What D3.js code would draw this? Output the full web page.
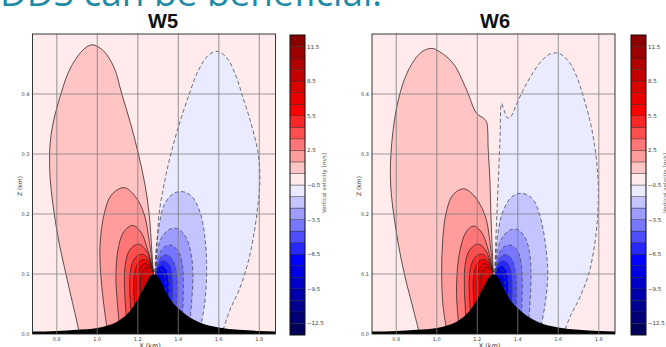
<!DOCTYPE html>
<html>
<head>
<meta charset="utf-8">
<script src="https://cdn.jsdelivr.net/npm/d3@7"></script>
<style>
body{margin:0;background:#fff;overflow:hidden}
svg{display:block}
</style>
</head>
<body>
<svg width="666" height="347"></svg>
<script>
// tick labels
const xTicks = [0.8, 1.0, 1.2, 1.4, 1.6, 1.8]
const zTicks = [0.0, 0.1, 0.2, 0.3, 0.4]
const cbTicks = [11.5, 8.5, 5.5, 2.5, -0.5, -3.5, -6.5, -9.5, -12.5]
const levels = [-13.5,-12.5,-11.5,-10.5,-9.5,-8.5,-7.5,-6.5,-5.5,-4.5,-3.5,-2.5,-1.5,-0.5,
    0.5,1.5,2.5,3.5,4.5,5.5,6.5,7.5,8.5,9.5,10.5,11.5,12.5]

// terrain (km)
const hillX = [0.68,0.8,0.9,1.0,1.05,1.1,1.15,1.2,1.23,1.25,1.265,1.28,1.295,1.31,1.33,1.36,1.40,1.45,1.5,1.55,1.6,1.7,1.8,1.88]
const hillZ = [0.004,0.005,0.007,0.01,0.014,0.021,0.034,0.058,0.077,0.09,0.097,0.1,0.097,0.09,0.076,0.058,0.043,0.029,0.02,0.014,0.011,0.007,0.005,0.004]

// W5 contours, [x km, z km]
const w5Up = [
  {level:0.5, pts:[[0.912,0.0],[0.894,0.028],[0.845,0.10],[0.803,0.167],[0.766,0.267],[0.772,0.333],[0.82,0.40],[0.87,0.445],[0.935,0.475],[0.976,0.482],[1.03,0.472],[1.083,0.444],[1.121,0.40],[1.165,0.35],[1.203,0.30],[1.235,0.25],[1.256,0.20],[1.269,0.14],[1.276,0.103]]},
  {level:1.5, pts:[[1.05,0.004],[1.03,0.055],[1.017,0.10],[1.014,0.15],[1.034,0.20],[1.07,0.232],[1.133,0.244],[1.19,0.228],[1.231,0.20],[1.256,0.156],[1.276,0.103]]},
  {level:2.5, pts:[[1.11,0.01],[1.095,0.07],[1.092,0.10],[1.102,0.14],[1.13,0.17],[1.174,0.181],[1.215,0.17],[1.245,0.145],[1.265,0.12],[1.276,0.103]]},
  {level:3.5, pts:[[1.145,0.02],[1.134,0.08],[1.138,0.115],[1.16,0.14],[1.203,0.15],[1.24,0.14],[1.262,0.122],[1.276,0.103]]},
  {level:4.5, pts:[[1.168,0.03],[1.16,0.085],[1.17,0.115],[1.195,0.13],[1.223,0.133],[1.25,0.127],[1.268,0.115],[1.277,0.103]]},
  {level:5.5, pts:[[1.185,0.04],[1.18,0.09],[1.193,0.113],[1.215,0.123],[1.24,0.124],[1.262,0.116],[1.277,0.103]]},
  {level:6.5, pts:[[1.2,0.05],[1.198,0.092],[1.21,0.109],[1.232,0.117],[1.255,0.115],[1.27,0.109],[1.278,0.102]]},
  {level:7.5, pts:[[1.215,0.06],[1.214,0.094],[1.226,0.106],[1.245,0.111],[1.263,0.11],[1.278,0.102]]}
]
const w5Down = [
  {level:-0.5, pts:[[1.285,0.103],[1.295,0.15],[1.305,0.20],[1.33,0.25],[1.363,0.30],[1.405,0.35],[1.454,0.40],[1.5,0.44],[1.55,0.465],[1.594,0.471],[1.64,0.46],[1.685,0.43],[1.714,0.40],[1.76,0.35],[1.795,0.30],[1.803,0.26],[1.795,0.22],[1.775,0.17],[1.745,0.12],[1.70,0.073],[1.655,0.04],[1.615,0.0]]},
  {level:-1.5, pts:[[1.285,0.103],[1.29,0.14],[1.305,0.18],[1.33,0.215],[1.375,0.234],[1.425,0.237],[1.47,0.228],[1.51,0.2],[1.535,0.15],[1.54,0.10],[1.53,0.05],[1.505,0.004]]},
  {level:-2.5, pts:[[1.285,0.103],[1.295,0.135],[1.32,0.162],[1.36,0.175],[1.40,0.175],[1.44,0.16],[1.465,0.13],[1.472,0.095],[1.465,0.05],[1.455,0.012]]},
  {level:-3.5, pts:[[1.286,0.103],[1.3,0.128],[1.33,0.145],[1.365,0.148],[1.40,0.138],[1.42,0.115],[1.425,0.085],[1.42,0.02]]},
  {level:-4.5, pts:[[1.286,0.103],[1.3,0.12],[1.32,0.13],[1.345,0.132],[1.37,0.125],[1.39,0.105],[1.395,0.075],[1.39,0.03]]},
  {level:-5.5, pts:[[1.286,0.103],[1.3,0.115],[1.32,0.122],[1.345,0.12],[1.365,0.108],[1.372,0.085],[1.37,0.04]]},
  {level:-6.5, pts:[[1.287,0.102],[1.302,0.111],[1.32,0.114],[1.34,0.108],[1.352,0.09],[1.352,0.05]]},
  {level:-7.5, pts:[[1.288,0.101],[1.303,0.107],[1.318,0.107],[1.332,0.097],[1.337,0.08],[1.337,0.06]]}
]

// W6 contours
const w6Up = [
  {level:0.5, pts:[[0.915,0.0],[0.885,0.04],[0.84,0.10],[0.80,0.17],[0.772,0.25],[0.778,0.32],[0.81,0.39],[0.86,0.44],[0.925,0.47],[0.976,0.476],[1.016,0.47],[1.081,0.451],[1.147,0.407],[1.196,0.368],[1.229,0.36],[1.245,0.354],[1.254,0.307],[1.262,0.257],[1.268,0.19],[1.274,0.14],[1.279,0.103]]},
  {level:1.5, pts:[[1.05,0.004],[1.03,0.05],[1.024,0.10],[1.028,0.15],[1.045,0.20],[1.08,0.232],[1.133,0.242],[1.18,0.232],[1.215,0.215],[1.245,0.19],[1.265,0.145],[1.278,0.103]]},
  {level:2.5, pts:[[1.11,0.01],[1.098,0.06],[1.1,0.10],[1.115,0.14],[1.145,0.17],[1.182,0.18],[1.22,0.17],[1.25,0.145],[1.268,0.12],[1.278,0.103]]},
  {level:3.5, pts:[[1.145,0.02],[1.136,0.08],[1.14,0.115],[1.162,0.14],[1.205,0.15],[1.24,0.14],[1.262,0.122],[1.277,0.103]]},
  {level:4.5, pts:[[1.168,0.03],[1.16,0.085],[1.17,0.115],[1.195,0.13],[1.223,0.133],[1.25,0.127],[1.268,0.115],[1.277,0.103]]},
  {level:5.5, pts:[[1.185,0.04],[1.18,0.09],[1.193,0.113],[1.215,0.123],[1.24,0.124],[1.262,0.116],[1.277,0.103]]},
  {level:6.5, pts:[[1.2,0.05],[1.198,0.092],[1.21,0.109],[1.232,0.117],[1.255,0.115],[1.27,0.109],[1.278,0.102]]},
  {level:7.5, pts:[[1.215,0.06],[1.214,0.094],[1.226,0.106],[1.245,0.111],[1.263,0.11],[1.278,0.102]]}
]
const w6Down = [
  {level:-0.5, pts:[[1.287,0.103],[1.292,0.16],[1.298,0.21],[1.304,0.257],[1.312,0.323],[1.32,0.384],[1.335,0.37],[1.35,0.36],[1.365,0.362],[1.39,0.38],[1.427,0.407],[1.465,0.43],[1.509,0.452],[1.555,0.466],[1.60,0.468],[1.65,0.455],[1.69,0.43],[1.72,0.40],[1.76,0.35],[1.785,0.30],[1.797,0.25],[1.795,0.20],[1.78,0.15],[1.75,0.10],[1.705,0.06],[1.66,0.03],[1.625,0.0]]},
  {level:-1.5, pts:[[1.287,0.103],[1.293,0.14],[1.305,0.175],[1.322,0.2],[1.36,0.225],[1.40,0.234],[1.44,0.233],[1.48,0.222],[1.515,0.19],[1.54,0.14],[1.548,0.10],[1.535,0.05],[1.51,0.004]]},
  {level:-2.5, pts:[[1.287,0.103],[1.297,0.135],[1.322,0.16],[1.36,0.173],[1.40,0.174],[1.44,0.158],[1.46,0.13],[1.465,0.095],[1.46,0.05],[1.452,0.012]]},
  {level:-3.5, pts:[[1.287,0.103],[1.3,0.128],[1.33,0.145],[1.365,0.148],[1.40,0.138],[1.418,0.115],[1.422,0.085],[1.418,0.02]]},
  {level:-4.5, pts:[[1.287,0.103],[1.3,0.12],[1.32,0.13],[1.345,0.132],[1.37,0.125],[1.388,0.105],[1.393,0.075],[1.39,0.03]]},
  {level:-5.5, pts:[[1.287,0.103],[1.3,0.115],[1.32,0.122],[1.345,0.12],[1.365,0.108],[1.372,0.085],[1.37,0.04]]},
  {level:-6.5, pts:[[1.288,0.102],[1.302,0.111],[1.32,0.114],[1.34,0.108],[1.352,0.09],[1.352,0.05]]},
  {level:-7.5, pts:[[1.289,0.101],[1.303,0.107],[1.318,0.107],[1.332,0.097],[1.337,0.08],[1.337,0.06]]}
]

const svg = d3.select("svg")

// matplotlib "seismic", centred on -0.5
const cmap = d3.scaleLinear()
    .domain([-13.5, -7, -0.5, 6, 12.5])
    .range(["#00004d", "#0000ff", "#ffffff", "#ff0000", "#800000"])
    .clamp(true)

const y = d3.scaleLinear().domain([0, 0.5]).range([334, 34])
const cbY = d3.scaleLinear().domain([-13.5, 12.5]).range([335, 35])
const fmt = v => d3.format(".1f")(v).replace("-", "\u2212")

// header text cut off by the frame top
svg.append("text")
    .attr("x", 0).attr("y", 6)
    .attr("textLength", 382).attr("lengthAdjust", "spacingAndGlyphs")
    .style("font-family", "'Open Sans', sans-serif")
    .style("font-size", "36px")
    .attr("fill", "#1d8aa6")
    .text("DDS can be beneficial:")

function panel(x0, up, down, title, titleX, cbX){
    const x = d3.scaleLinear().domain([0.68, 1.88]).range([x0, x0 + 243])
    const g = svg.append("g")
    const clipId = "clip" + title
    g.append("clipPath").attr("id", clipId)
      .append("rect")
        .attr("x", x.range()[0]).attr("y", y(0.5))
        .attr("width", x.range()[1] - x.range()[0])
        .attr("height", y(0) - y(0.5))

    const plot = g.append("g").attr("clip-path", `url(#${clipId})`)

    plot.append("rect")
        .attr("x", x.range()[0]).attr("y", y(0.5))
        .attr("width", x.range()[1] - x.range()[0])
        .attr("height", y(0) - y(0.5))
        .attr("fill", cmap(0))

    const line = d3.line()
        .x(d => x(d[0])).y(d => y(d[1]))
        .curve(d3.curveCatmullRom.alpha(0.5))

    const closed = pts => {
        const a = pts[0], b = pts[pts.length - 1]
        return line(pts) + `L${x(b[0])},${y(-0.01)}L${x(a[0])},${y(-0.01)}Z`
    }

    plot.selectAll(".up-fill").data(up).enter().append("path")
        .attr("class", "up-fill")
        .attr("d", d => closed(d.pts))
        .attr("fill", d => cmap(d.level + 0.5))

    plot.selectAll(".down-fill").data(down).enter().append("path")
        .attr("class", "down-fill")
        .attr("d", d => closed(d.pts))
        .attr("fill", d => cmap(d.level - 0.5))

    plot.selectAll(".up-line").data(up).enter().append("path")
        .attr("class", "up-line")
        .attr("d", d => line(d.pts))
        .attr("fill", "none")
        .attr("stroke", "#3a2626")
        .attr("stroke-width", 0.8)

    plot.selectAll(".down-line").data(down).enter().append("path")
        .attr("class", "down-line")
        .attr("d", d => line(d.pts))
        .attr("fill", "none")
        .attr("stroke", "#4a4a5a")
        .attr("stroke-width", 0.8)
        .attr("stroke-dasharray", "4,2.5")

    const hill = hillX.map((v, i) => [v, hillZ[i]])
    plot.append("path")
        .attr("d", d3.area()
            .x(d => x(d[0])).y0(y(-0.01)).y1(d => y(d[1]))
            .curve(d3.curveMonotoneX)(hill))
        .attr("fill", "#000")

    // grid on top
    plot.selectAll(".gx").data(xTicks).enter().append("line")
        .attr("x1", d => x(d)).attr("x2", d => x(d))
        .attr("y1", y(0)).attr("y2", y(0.5))
        .attr("stroke", "#7d7d7d").attr("stroke-opacity", 0.75).attr("stroke-width", 1.1)
    plot.selectAll(".gz").data(zTicks.slice(1)).enter().append("line")
        .attr("x1", x.range()[0]).attr("x2", x.range()[1])
        .attr("y1", d => y(d)).attr("y2", d => y(d))
        .attr("stroke", "#7d7d7d").attr("stroke-opacity", 0.75).attr("stroke-width", 1.1)

    g.append("rect")
        .attr("x", x.range()[0]).attr("y", y(0.5))
        .attr("width", x.range()[1] - x.range()[0])
        .attr("height", y(0) - y(0.5))
        .attr("fill", "none").attr("stroke", "#222").attr("stroke-width", 0.9)

    // tick labels
    g.selectAll(".xt").data(xTicks).enter().append("text")
        .attr("x", d => x(d)).attr("y", 341)
        .attr("text-anchor", "middle")
        .style("font-family", "DejaVu Sans").style("font-size", "5px")
        .attr("fill", "#444")
        .text(d => d.toFixed(1))
    g.selectAll(".zt").data(zTicks).enter().append("text")
        .attr("x", x.range()[0] - 3).attr("y", d => y(d) + 1.8)
        .attr("text-anchor", "end")
        .style("font-family", "DejaVu Sans").style("font-size", "5px")
        .attr("fill", "#444")
        .text(d => d.toFixed(1))

    g.append("text")
        .attr("x", (x.range()[0] + x.range()[1]) / 2 - 4).attr("y", 348)
        .attr("text-anchor", "middle")
        .style("font-family", "DejaVu Sans").style("font-size", "6.5px")
        .attr("fill", "#333")
        .text("X (km)")
    g.append("text")
        .attr("transform", `translate(${x.range()[0] - 11},186) rotate(-90)`)
        .attr("text-anchor", "middle")
        .style("font-family", "DejaVu Sans").style("font-size", "6px")
        .attr("fill", "#333")
        .text("Z (km)")

    g.append("text")
        .attr("x", titleX).attr("y", 28)
        .attr("text-anchor", "middle")
        .style("font-family", "'Liberation Sans', Arial, sans-serif")
        .style("font-weight", "bold").style("font-size", "20px")
        .attr("fill", "#111")
        .text(title)

    // colorbar
    const bands = levels.slice(0, -1).map((v, i) => [v, levels[i + 1]])
    g.selectAll(".cb").data(bands).enter().append("rect")
        .attr("x", cbX).attr("width", 15)
        .attr("y", d => cbY(d[1]))
        .attr("height", d => cbY(d[0]) - cbY(d[1]))
        .attr("fill", d => cmap((d[0] + d[1]) / 2))
        .attr("stroke", "#1a1a1a").attr("stroke-width", 0.5).attr("stroke-opacity", 0.7)
    g.append("rect")
        .attr("x", cbX).attr("y", cbY(12.5)).attr("width", 15)
        .attr("height", cbY(-13.5) - cbY(12.5))
        .attr("fill", "none").attr("stroke", "#111").attr("stroke-width", 0.8)
    g.selectAll(".cbt").data(cbTicks).enter().append("text")
        .attr("x", cbX + 17).attr("y", d => cbY(d) + 2)
        .style("font-family", "DejaVu Sans").style("font-size", "5.5px")
        .attr("fill", "#333")
        .text(fmt)
    g.append("text")
        .attr("transform", `translate(${cbX + 36},183) rotate(-90)`)
        .attr("text-anchor", "middle")
        .style("font-family", "DejaVu Sans").style("font-size", "5.5px")
        .attr("fill", "#555")
        .text("Vertical velocity [m/s]")
}

panel(32.5, w5Up, w5Down, "W5", 163, 290)
panel(372, w6Up, w6Down, "W6", 495, 631)
</script>
</body>
</html>
